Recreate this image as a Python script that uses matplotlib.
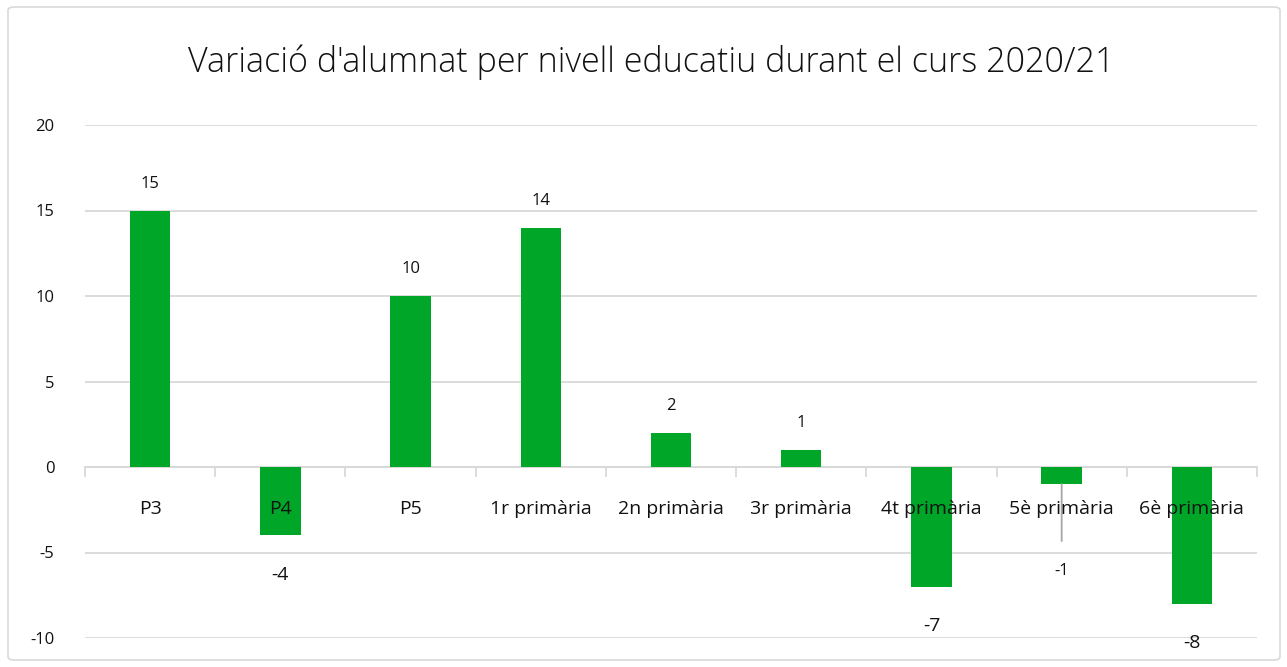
import matplotlib
matplotlib.use("Agg")
import matplotlib.pyplot as plt
from matplotlib.patches import FancyBboxPatch

categories = ["P3", "P4", "P5", "1r primària", "2n primària", "3r primària",
              "4t primària", "5è primària", "6è primària"]
values = [15, -4, 10, 14, 2, 1, -7, -1, -8]
title = "Variació d'alumnat per nivell educatiu durant el curs 2020/21"
yticks = [-10, -5, 0, 5, 10, 15, 20]

plt.rcParams['font.family'] = ['Open Sans', 'DejaVu Sans']

fig = plt.figure(figsize=(12.87, 6.67), dpi=100)
border = FancyBboxPatch((8/1287, 7/667), 1272/1287, 653/667,
                        boxstyle="round,pad=0,rounding_size=0.005",
                        transform=fig.transFigure, fill=False,
                        edgecolor="#d9d9d9", linewidth=1.2)
fig.patches.append(border)

ax = fig.add_axes([85/1287, 1 - 638/667, (1257 - 85)/1287, (638 - 125)/667])
x = list(range(len(categories)))
ax.bar(x, values, width=0.31, color="#00A627", zorder=3)
ax.set_xlim(-0.5, len(categories) - 0.5)
ax.set_ylim(-10, 20)
ax.set_yticks(yticks)
ax.set_yticklabels([str(t) for t in yticks], fontsize=12, color="#111111")
ax.tick_params(axis='y', length=0, pad=22)
ax.set_xticks([])
for s in ax.spines.values():
    s.set_visible(False)
ax.grid(axis='y', color="#d9d9d9", linewidth=1.3, zorder=0)
ax.axhline(0, color="#d9d9d9", linewidth=1.3, zorder=2)
# category boundary tick marks
for b in range(len(categories) + 1):
    ax.plot([b - 0.5, b - 0.5], [0, -0.5], color="#d9d9d9", lw=1.3, zorder=2,
            clip_on=False)

for i, c in enumerate(categories):
    ax.text(i, -2.45, c, ha='center', va='center', fontsize=14, zorder=4,
            color="#111111")

for i, v in enumerate(values):
    if v >= 0:
        ax.text(i, v + 1.55, str(v), ha='center', va='center', fontsize=12,
                color="#111111")
    elif v == -1:
        ax.annotate(str(v), xy=(i, v), xytext=(i, -6.1), ha='center',
                    va='center', fontsize=12, color="#111111",
                    arrowprops=dict(arrowstyle='-', color="#a6a6a6", lw=1.3,
                                    shrinkA=14, shrinkB=0))
    else:
        ax.text(i, v - 2.3, str(v), ha='center', va='center', fontsize=14,
                color="#111111")

fig.text(651/1287, 1 - 62/667, title, ha='center', va='center', fontsize=24.5,
         color="#111111", fontweight='light')

fig.savefig("out.png", dpi=100)
